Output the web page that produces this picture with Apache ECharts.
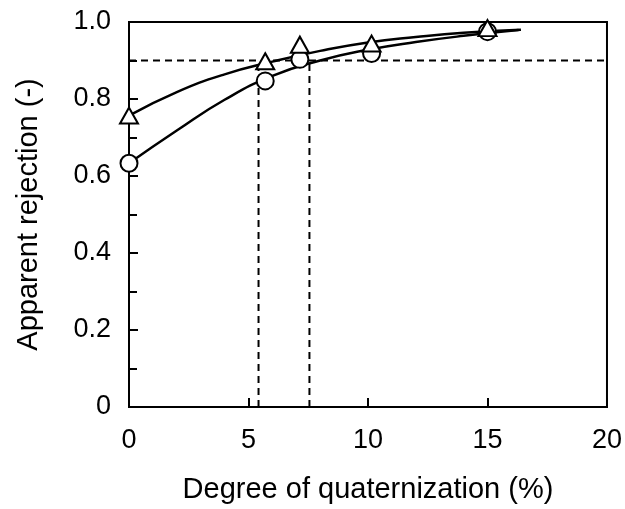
<!DOCTYPE html>
<html>
<head>
<meta charset="utf-8">
<script src="https://cdn.jsdelivr.net/npm/echarts@6/dist/echarts.min.js"></script>
<style>html,body{margin:0;padding:0;background:#fff}#c{width:625px;height:509px}</style>
</head>
<body>
<div id="c"></div>
<script>
// Measured points
const triangleX = [0, 5.7, 7.15, 10.15, 15.0];
const triangleY = [0.757, 0.898, 0.941, 0.944, 0.984];
const circleX = [0, 5.7, 7.15, 10.15, 15.0];
const circleY = [0.633, 0.847, 0.903, 0.918, 0.975];
// Fitted curves
const triCurveX = [0, 2, 4, 6, 8, 10, 12, 14, 16.4];
const triCurveY = [0.757, 0.818, 0.864, 0.897, 0.925, 0.947, 0.961, 0.972, 0.980];
const cirCurveX = [0, 2, 4, 6, 8, 10, 12, 14, 16.3];
const cirCurveY = [0.633, 0.718, 0.798, 0.860, 0.900, 0.928, 0.948, 0.964, 0.979];
// Reference dashed lines
const refY = 0.9;
const refX = [5.42, 7.55];
const xTicks = [0, 5, 10, 15, 20];
const yTickLabels = ['0', '0.2', '0.4', '0.6', '0.8', '1.0'];

const zip = (a, b) => a.map((v, i) => [v, b[i]]);
const FONT = '"Liberation Sans", Arial, Helvetica, sans-serif';
const dashStyle = {color: '#000', width: 2, type: [7, 5]};

const chart = echarts.init(document.getElementById('c'), null, {renderer: 'canvas'});
chart.setOption({
  animation: false,
  backgroundColor: '#fff',
  grid: {left: 129, right: 18, top: 22, bottom: 97, show: true, borderColor: '#000', borderWidth: 2, containLabel: false},
  xAxis: {
    type: 'value', min: xTicks[0], max: xTicks[xTicks.length - 1], interval: 5,
    name: 'Degree of quaternization (%)', nameLocation: 'middle', nameGap: 68,
    nameTextStyle: {fontFamily: FONT, fontSize: 29, color: '#000'},
    axisLine: {lineStyle: {color: '#000', width: 2}},
    axisTick: {inside: true, length: 9, lineStyle: {color: '#000', width: 2}},
    axisLabel: {fontFamily: FONT, fontSize: 27, color: '#000', margin: 20},
    splitLine: {show: false}
  },
  yAxis: {
    type: 'value', min: 0, max: 1, interval: 0.2,
    name: 'Apparent rejection (-)', nameLocation: 'middle', nameGap: 86,
    nameTextStyle: {fontFamily: FONT, fontSize: 29, color: '#000'},
    axisLine: {lineStyle: {color: '#000', width: 2}},
    axisTick: {inside: true, length: 9, lineStyle: {color: '#000', width: 2}},
    minorTick: {show: true, splitNumber: 2, length: 8, lineStyle: {color: '#000', width: 2}},
    axisLabel: {fontFamily: FONT, fontSize: 27, color: '#000', margin: 18,
      formatter: (v) => yTickLabels[Math.round(v / 0.2)]},
    splitLine: {show: false}
  },
  series: [
    {type: 'line', data: [[0, refY], [20, refY]], symbol: 'none', lineStyle: dashStyle, z: 1},
    {type: 'line', data: [[refX[0], 0], [refX[0], refY]], symbol: 'none', lineStyle: dashStyle, z: 1},
    {type: 'line', data: [[refX[1], 0], [refX[1], refY]], symbol: 'none', lineStyle: dashStyle, z: 1},
    {type: 'line', data: zip(triCurveX, triCurveY), smooth: 0.5, symbol: 'none', lineStyle: {color: '#000', width: 2.5}, z: 2},
    {type: 'line', data: zip(cirCurveX, cirCurveY), smooth: 0.5, symbol: 'none', lineStyle: {color: '#000', width: 2.5}, z: 2},
    {type: 'scatter', data: zip(circleX, circleY), symbol: 'circle', symbolSize: 17,
      itemStyle: {color: '#fff', borderColor: '#000', borderWidth: 2, opacity: 1}, z: 3},
    {type: 'scatter', data: zip(triangleX, triangleY), symbol: 'triangle', symbolSize: [18, 16],
      itemStyle: {color: '#fff', borderColor: '#000', borderWidth: 2, opacity: 1}, z: 4}
  ]
});
</script>
</body>
</html>
